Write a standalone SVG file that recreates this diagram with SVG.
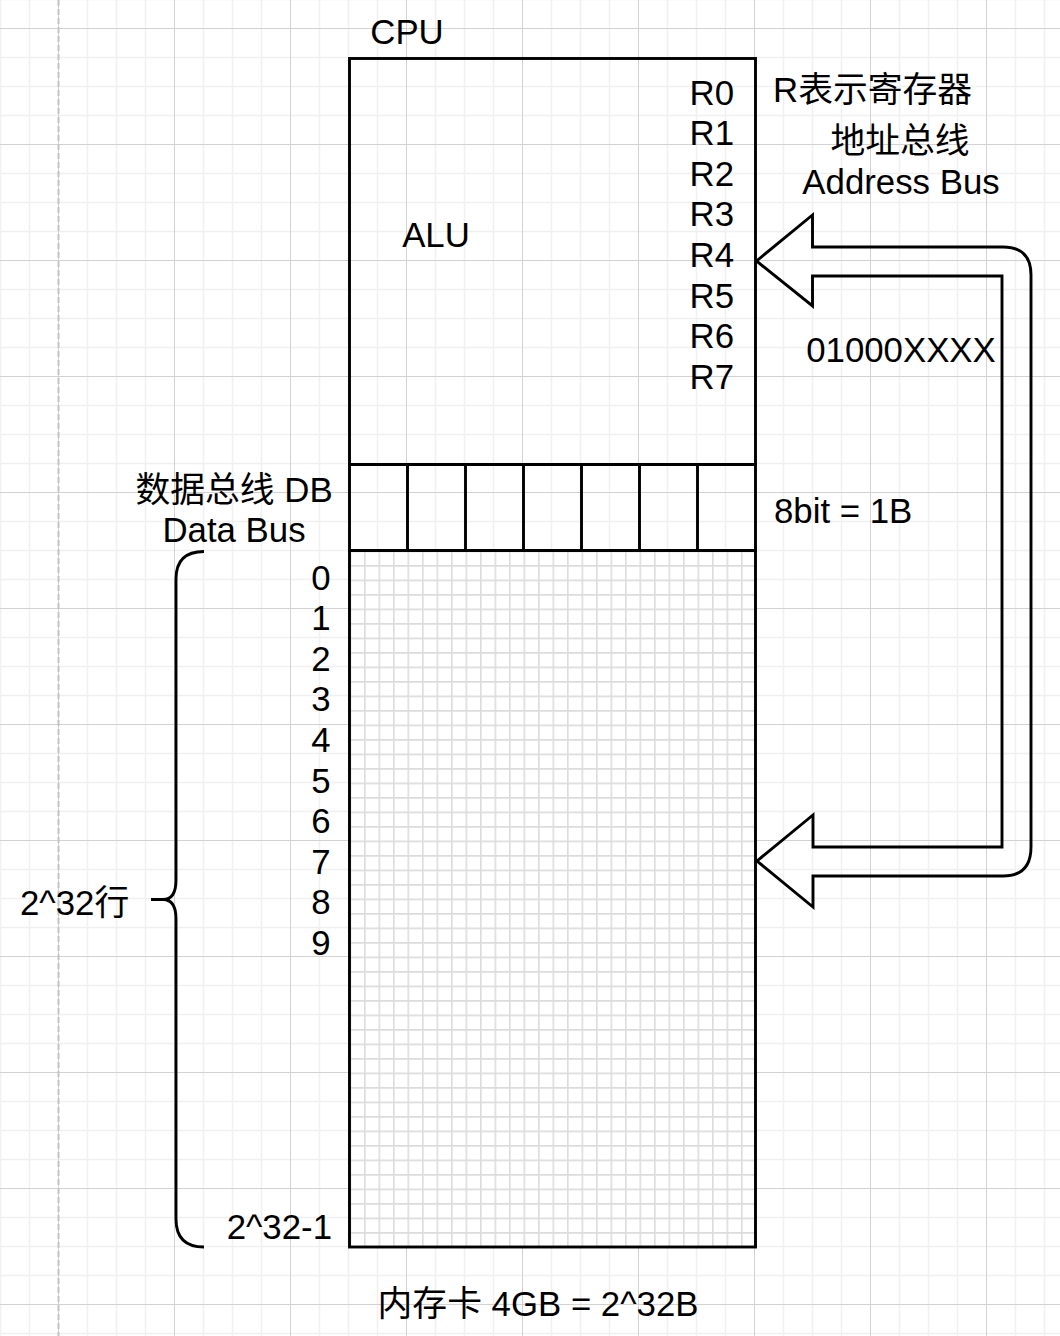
<svg xmlns="http://www.w3.org/2000/svg" width="1060" height="1336" viewBox="0 0 1060 1336">
  <defs>
    <pattern id="grid" x="58" y="28" width="116" height="116" patternUnits="userSpaceOnUse">
      <path d="M29.5 0V116M58.5 0V116M87.5 0V116M0 29.5H116M0 58.5H116M0 87.5H116" stroke="#f0f0f0" stroke-width="1.5" fill="none"/>
      <path d="M0.5 0V116M0 0.5H116" stroke="#d2d2d2" stroke-width="1" fill="none"/>
    </pattern>
    <pattern id="memgrid" x="349.5" y="550.5" width="14.5" height="14.5" patternUnits="userSpaceOnUse">
      <path d="M0.8 0V14.5M0 0.8H14.5" stroke="#dcdcdc" stroke-width="1.6" fill="none"/>
    </pattern>
  </defs>
  <style>
    .t { font-family: "Liberation Sans", Arial, "Noto Sans CJK SC", sans-serif; font-size: 34.8px; fill: #000; }
    .end { text-anchor: end; }
    .mid { text-anchor: middle; }
    .ln { fill: none; stroke: #000; stroke-width: 2.9; }
  </style>

  <rect width="1060" height="1336" fill="#ffffff"/>
  <rect width="1060" height="1336" fill="url(#grid)"/>
  <line x1="58.5" y1="0" x2="58.5" y2="1336" stroke="#c4c4c4" stroke-width="2" stroke-dasharray="6 3"/>

  <g id="memory">
    <rect x="349.5" y="550.5" width="406" height="696.5" fill="#ffffff"/>
    <rect x="349.5" y="550.5" width="406" height="696.5" fill="url(#memgrid)"/>
    <rect x="349.5" y="550.5" width="406" height="696.5" class="ln"/>
  </g>

  <g id="cpu">
    <rect x="349.5" y="58.5" width="406" height="406" class="ln"/>
    <text class="t mid" x="407" y="44">CPU</text>
  </g>

  <g id="alu">
    <text class="t mid" x="436" y="246.5">ALU</text>
  </g>

  <g id="registers">
    <text class="t end" x="734" y="104.5">R0</text>
    <text class="t end" x="734" y="145.1">R1</text>
    <text class="t end" x="734" y="185.7">R2</text>
    <text class="t end" x="734" y="226.3">R3</text>
    <text class="t end" x="734" y="266.9">R4</text>
    <text class="t end" x="734" y="307.5">R5</text>
    <text class="t end" x="734" y="348.1">R6</text>
    <text class="t end" x="734" y="388.7">R7</text>
  </g>

  <g id="register-note">
    <text class="t" x="773" y="101.5">R表示寄存器</text>
  </g>

  <g id="bits">
    <rect x="349.5" y="464.5" width="406" height="86" class="ln"/>
    <path class="ln" d="M407.5 464.5V550.5M465.5 464.5V550.5M523.5 464.5V550.5M581.5 464.5V550.5M639.5 464.5V550.5M697.5 464.5V550.5"/>
  </g>

  <g id="bit-label">
    <text class="t" x="774" y="522.5">8bit = 1B</text>
  </g>

  <g id="data-bus-label">
    <text class="t mid" x="234" y="502">数据总线 DB</text>
    <text class="t mid" x="234" y="541.5">Data Bus</text>
  </g>

  <g id="address-bus-label">
    <text class="t mid" x="900" y="153">地址总线</text>
    <text class="t mid" x="901" y="194">Address Bus</text>
  </g>

  <g id="address-value">
    <text class="t mid" x="901" y="362">01000XXXX</text>
  </g>

  <g id="row-numbers">
    <text class="t end" x="330.5" y="589.5">0</text>
    <text class="t end" x="330.5" y="630.1">1</text>
    <text class="t end" x="330.5" y="670.7">2</text>
    <text class="t end" x="330.5" y="711.3">3</text>
    <text class="t end" x="330.5" y="751.9">4</text>
    <text class="t end" x="330.5" y="792.5">5</text>
    <text class="t end" x="330.5" y="833.1">6</text>
    <text class="t end" x="330.5" y="873.7">7</text>
    <text class="t end" x="330.5" y="914.3">8</text>
    <text class="t end" x="330.5" y="954.9">9</text>
    <text class="t end" x="332" y="1238.5">2^32-1</text>
  </g>

  <g id="brace">
    <path class="ln" d="M204 551.5Q176 551.5 176 579V880Q176 899.5 163 899.5H151M163 899.5Q176 899.5 176 919V1219Q176 1247 204 1247"/>
    <text class="t" x="20" y="914.5">2^32行</text>
  </g>

  <g id="memory-label">
    <text class="t mid" x="538" y="1315.5">内存卡 4GB = 2^32B</text>
  </g>

  <g id="connectors">
    <path class="ln" stroke-linejoin="miter" d="M756.5 261L812.5 215V247H1003Q1031 247 1031 275V847Q1031 876 1003 876H813V907L757 861L813 815V847H1002V276H812.5V306Z"/>
  </g>
</svg>
